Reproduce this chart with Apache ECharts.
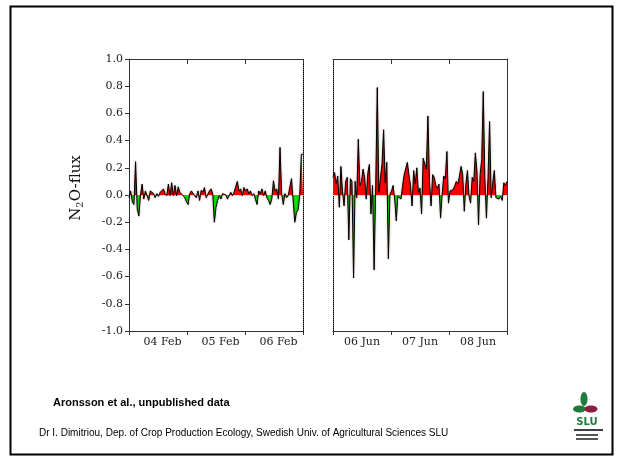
<!DOCTYPE html>
<html><head><meta charset="utf-8">
<script src="https://cdn.jsdelivr.net/npm/echarts/dist/echarts.min.js"></script>
<style>html,body{margin:0;padding:0;background:#fff}#c{width:622px;height:461px}</style>
</head><body><div id="c"></div>
<script>
const febDays = ['04 Feb', '05 Feb', '06 Feb'];
const junDays = ['06 Jun', '07 Jun', '08 Jun'];
const febFlux = [-0.02, 0.03, -0.05, -0.07, 0.245, -0.1, -0.155, 0.0, 0.08, -0.03, 0.03, 0.02, -0.04, 0.03, 0.02, 0.01, -0.02, 0.01, -0.01, 0.02, 0.02, 0.045, 0.01, -0.005, 0.08, -0.005, 0.09, -0.005, 0.07, -0.005, 0.06, 0.02, 0.03, -0.005, -0.02, -0.05, -0.07, 0.01, 0.03, 0.02, -0.005, -0.02, 0.03, -0.04, 0.035, 0.02, 0.055, -0.02, -0.03, 0.03, 0.045, 0.01, -0.2, -0.09, -0.04, -0.005, -0.03, 0.01, 0.02, 0.0, -0.03, -0.02, 0.02, -0.005, 0.02, 0.01, 0.1, 0.03, 0.045, -0.005, 0.055, 0.03, 0.045, 0.01, 0.03, -0.005, 0.01, -0.03, -0.07, 0.03, 0.01, 0.045, -0.005, 0.03, -0.02, -0.04, -0.07, -0.03, 0.105, 0.03, 0.045, -0.03, 0.35, 0.01, -0.07, 0.01, -0.02, -0.005, 0.06, 0.12, 0.125, -0.2, -0.13, -0.11, -0.005, 0.3, 0.3];
const junFlux = [0.13, 0.165, 0.08, 0.14, -0.09, 0.21, 0.03, -0.08, 0.1, 0.13, -0.33, 0.12, 0.1, -0.61, 0.1, -0.02, 0.41, 0.07, 0.1, 0.19, 0.13, -0.03, 0.16, 0.225, -0.14, 0.07, -0.55, 0.07, 0.79, 0.02, 0.03, 0.23, 0.48, 0.09, 0.24, -0.47, 0.005, 0.03, 0.07, -0.03, -0.19, -0.01, -0.02, -0.03, 0.07, 0.15, 0.14, 0.24, 0.15, 0.07, -0.08, 0.18, 0.08, 0.2, 0.02, 0.05, -0.14, 0.27, 0.27, 0.19, 0.58, 0.1, -0.08, 0.15, 0.13, 0.07, 0.05, 0.08, -0.17, 0.005, 0.14, 0.12, 0.32, -0.06, 0.03, 0.03, 0.04, 0.07, 0.1, 0.08, 0.07, 0.21, 0.15, -0.12, 0.08, 0.18, -0.01, -0.06, 0.13, 0.1, 0.31, 0.18, -0.22, 0.15, 0.26, 0.76, 0.13, -0.17, 0.13, 0.54, -0.02, 0.09, 0.18, -0.02, -0.02, -0.03, -0.01, -0.04, 0.09, 0.07, 0.1];
const yMin = -1, yMax = 1, yStep = 0.2;
const credit1 = 'Aronsson et al., unpublished data';
const credit2 = 'Dr I. Dimitriou, Dep. of Crop Production Ecology, Swedish Univ. of Agricultural Sciences SLU';

const AX = '#333';
const serif = 'DejaVu Serif';
const pairs = a => a.map((v, i) => [i, v]);

function valueX(grid, n) {
  return {gridIndex: grid, type: 'value', min: 0, max: n - 1, position: 'bottom',
    axisLine: {show: true, onZero: true, lineStyle: {color: '#c6ecc6', width: 1}},
    axisTick: {show: false}, axisLabel: {show: false}, splitLine: {show: false}, z: 1};
}
function catX(grid, days, pos) {
  const bottom = pos === 'bottom';
  return {
    gridIndex: grid, type: 'category', data: days, position: pos, boundaryGap: true,
    axisLine: {show: true, onZero: false, lineStyle: {color: AX, width: 1}},
    axisTick: {show: true, inside: !bottom, length: bottom ? 4 : 5, lineStyle: {color: AX}},
    axisLabel: bottom ? {show: true, fontFamily: serif, fontSize: 11, color: '#222', margin: 6,
      padding: grid === 0 ? [0, 0, 0, 9] : 0} : {show: false},
    splitLine: {show: false}
  };
}
function valY(grid, pos, dotted, labels) {
  return {
    gridIndex: grid, type: 'value', min: yMin, max: yMax, interval: yStep, position: pos,
    axisLine: {show: true, onZero: false, lineStyle: {color: dotted ? '#000' : AX, width: 1, type: dotted ? 'dotted' : 'solid'}},
    axisTick: {show: labels, length: 4, lineStyle: {color: AX}},
    axisLabel: labels ? {show: true, fontFamily: serif, fontSize: 11, color: '#222', margin: 6,
      formatter: v => v.toFixed(1)} : {show: false},
    splitLine: {show: false}
  };
}
function areaSeries(xi, yi, data) {
  return {
    type: 'line', xAxisIndex: xi, yAxisIndex: yi, data: pairs(data), symbol: 'none',
    lineStyle: {width: 0}, areaStyle: {opacity: 1}, z: 2, silent: true
  };
}
function lineSeries(xi, yi, data) {
  return {
    type: 'line', xAxisIndex: xi, yAxisIndex: yi, data: pairs(data), symbol: 'none',
    color: '#000',
    lineStyle: {color: '#000', width: 1, shadowBlur: 2, shadowColor: 'rgba(90,0,0,0.45)'}, z: 3, silent: true
  };
}

const chart = echarts.init(document.getElementById('c'), null, {renderer: 'canvas'});
chart.setOption({
  backgroundColor: '#fff',
  animation: false,
  grid: [
    {left: 129, top: 59, width: 174, height: 272},
    {left: 333, top: 59, width: 174, height: 272}
  ],
  xAxis: [
    valueX(0, febFlux.length), catX(0, febDays, 'bottom'), catX(0, febDays, 'top'),
    valueX(1, junFlux.length), catX(1, junDays, 'bottom'), catX(1, junDays, 'top')
  ],
  yAxis: [
    valY(0, 'left', false, true), valY(0, 'right', true, false),
    valY(1, 'left', true, false), valY(1, 'right', false, false)
  ],
  visualMap: [{
    type: 'piecewise', show: false, dimension: 1, seriesIndex: [0, 2],
    pieces: [{gt: 0, lte: 1, color: '#ff0000'}, {gte: -1, lte: 0, color: '#00e600'}]
  }],
  series: [
    areaSeries(0, 0, febFlux), lineSeries(0, 0, febFlux),
    areaSeries(3, 2, junFlux), lineSeries(3, 2, junFlux)
  ],
  graphic: [
    {type: 'rect', shape: {x: 10.5, y: 6.5, width: 602, height: 448}, style: {fill: 'none', stroke: '#000', lineWidth: 2}, z: 10},
    {type: 'text', x: 76, y: 188, rotation: Math.PI / 2,
      style: {text: '{a|N}{b|2}{a|O-flux}', align: 'center', verticalAlign: 'middle',
        rich: {a: {fontFamily: serif, fontSize: 15, fill: '#111'}, b: {fontFamily: serif, fontSize: 10, fill: '#111', padding: [9, 0, 0, 0]}}}},
    {type: 'text', x: 53, y: 403, style: {text: credit1, font: 'bold 11px "Liberation Sans", Arial', fill: '#000', verticalAlign: 'middle'}},
    {type: 'text', x: 39, y: 433, style: {text: credit2, font: '10px "Liberation Sans", Arial', fill: '#000', verticalAlign: 'middle'}},
    {type: 'group', children: [
      {type: 'ellipse', shape: {cx: 584, cy: 399, rx: 3.5, ry: 7}, style: {fill: '#1e7b3c'}},
      {type: 'ellipse', shape: {cx: 579.5, cy: 409, rx: 6.5, ry: 3.5}, style: {fill: '#1e7b3c'}},
      {type: 'ellipse', shape: {cx: 591, cy: 409, rx: 6.5, ry: 3.5}, style: {fill: '#8c1d40'}},
      {type: 'text', x: 587, y: 422, style: {text: 'SLU', font: 'bold 10px "DejaVu Sans"', fill: '#1e7b3c', align: 'center', verticalAlign: 'middle'}},
      {type: 'line', shape: {x1: 574, y1: 430, x2: 603, y2: 430}, style: {stroke: '#000', lineWidth: 1.5}},
      {type: 'rect', shape: {x: 576, y: 434, width: 22, height: 2}, style: {fill: '#555'}},
      {type: 'rect', shape: {x: 576, y: 438, width: 22, height: 2}, style: {fill: '#555'}}
    ]}
  ]
});
</script></body></html>
